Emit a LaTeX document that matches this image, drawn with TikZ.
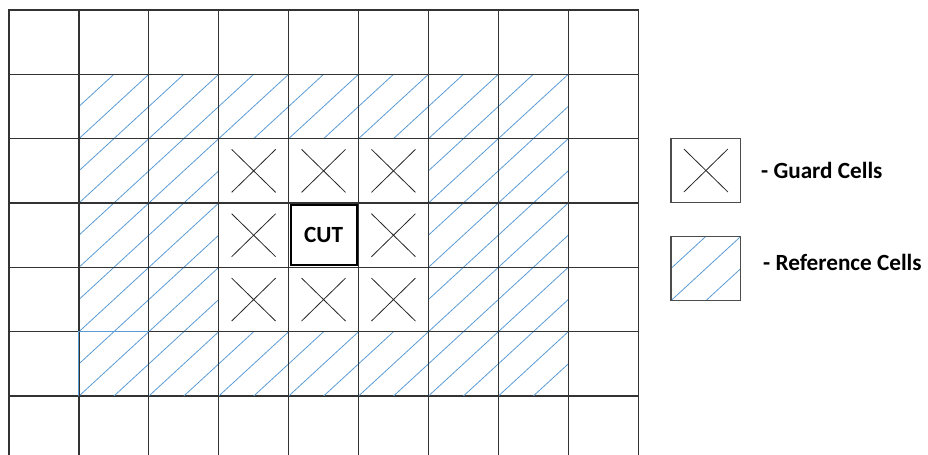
\documentclass[tikz,border=0pt]{standalone}
\usepackage{fontspec}
\setmainfont{Carlito}
\definecolor{gridcol}{HTML}{333333}
\definecolor{refcol}{HTML}{5B9BD5}
\begin{document}
\begin{tikzpicture}[x=1bp,y=-1bp,
  cell/.style={draw=gridcol, line width=1.2bp, minimum width=69.9bp, minimum height=64.35bp, inner sep=0pt, outer sep=0pt},
  hatch/.style={path picture={
     \draw[refcol,line width=0.8bp]
       (path picture bounding box.south west) -- (path picture bounding box.north east)
       (path picture bounding box.west) -- (path picture bounding box.north)
       (path picture bounding box.south) -- (path picture bounding box.east);}},
  cross/.style={path picture={
     \draw[black!85,line width=0.8bp]
       ([shift={(-22bp,-21.5bp)}]path picture bounding box.center) -- ([shift={(22bp,21.5bp)}]path picture bounding box.center)
       ([shift={(-22bp,21.5bp)}]path picture bounding box.center) -- ([shift={(22bp,-21.5bp)}]path picture bounding box.center);}},
  refcell/.style={cell,hatch},
  guardcell/.style={cell,cross},
  label/.style={font=\bfseries\fontsize{23.2bp}{27bp}\selectfont, inner sep=0pt},
  cutbox/.style={draw=black, line width=2bp, minimum width=66bp, minimum height=60.5bp, inner sep=0pt}
]
\useasboundingbox (0,0) rectangle (928,455);
\begin{scope}
\clip (0,0) rectangle (928,455);
% plain cells
\foreach \i in {0,...,8}{
  \foreach \j in {0,...,6}{
    \node[cell] (c-\i-\j) at ({9+69.9*\i+34.95},{10+64.35*\j+32.175}) {};
  }
}
% reference cells
\foreach \i/\j in {1/1,2/1,3/1,4/1,5/1,6/1,7/1,
                   1/2,2/2,6/2,7/2,
                   1/3,2/3,6/3,7/3,
                   1/4,2/4,6/4,7/4,
                   1/5,2/5,3/5,4/5,5/5,6/5,7/5}{
  \node[refcell] (r-\i-\j) at ({9+69.9*\i+34.95},{10+64.35*\j+32.175}) {};
}
% blue edges of one cell
\draw[refcol,line width=1bp] (r-1-5.south west) -- (r-1-5.north west) -- (r-1-5.north east);
\draw[gridcol,line width=1.2bp] (r-1-5.south west) -- (r-1-5.south east) -- (r-1-5.north east);
% guard cells
\foreach \i/\j in {3/2,4/2,5/2,3/3,5/3,3/4,4/4,5/4}{
  \node[guardcell] (g-\i-\j) at ({9+69.9*\i+34.95},{10+64.35*\j+32.175}) {};
}
\node[cell] (cut) at ({9+69.9*4+34.95},{10+64.35*3+32.175}) {};
\node[cutbox] (cutframe) at (cut.center) {};
\node[label] (cuttext) at (cut.center) {CUT};
\end{scope}
% legend
\node[guardcell, draw=black!70] (lg) at (705.9,170.5) {};
\node[refcell, draw=black!70] (lr) at (705.9,268.5) {};
\node[label, anchor=west] (lgt) at (761,170.5) {- Guard Cells};
\node[label, anchor=west] (lrt) at (763,262) {- Reference Cells};
\end{tikzpicture}
\end{document}
